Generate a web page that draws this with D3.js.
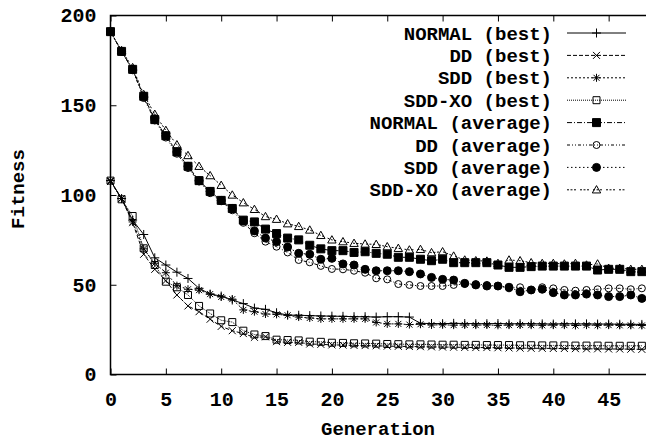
<!DOCTYPE html>
<html>
<head>
<meta charset="utf-8">
<script src="https://cdn.jsdelivr.net/npm/d3@7"></script>
<style>
  body { margin: 0; background: #fff; }
  text { font-family: "Liberation Mono", monospace; font-weight: bold; fill: #000; }
</style>
</head>
<body>
<svg id="chart" width="646" height="441"></svg>
<script>
// generations on the x axis
const generations = d3.range(0, 49);

// best-of-population fitness per generation
const normalBest = [108, 98, 86, 78, 65, 61, 57, 53.5, 48, 44.8, 43.7, 41.5, 39.5, 37, 36.3, 34.4, 33.1, 33, 32.8, 32.6, 32.5, 32.4, 32.2, 32.2, 32, 32.2, 32.2, 32, 28.5, 28.4, 28.3, 28.5, 28.4, 28.3, 28.3, 28.4, 28.2, 28.3, 28.3, 28.2, 28.1, 28.3, 28.2, 28.2, 28.1, 28.1, 28, 28, 27.9];
const ddBest = [107.5, 98, 84.6, 67, 58.6, 52.3, 44.3, 38.2, 35, 30.8, 26.8, 24.4, 22.8, 20.7, 21, 18.3, 17.9, 17.9, 17, 16.8, 16.5, 16.4, 16.2, 16.1, 16, 15.8, 15.7, 15.6, 15.5, 15.4, 15.3, 15.2, 15.1, 15, 15, 14.9, 14.8, 14.7, 14.6, 14.6, 14.5, 14.5, 14.4, 14.3, 14.3, 14.2, 14.2, 14.1, 14];
const sddBest = [108, 98, 85, 70, 62, 56.7, 49.5, 47.5, 47, 44.8, 43.2, 42, 36, 35, 33.7, 33.5, 33, 32, 31.5, 31, 31, 31, 31, 31, 29, 28.2, 28.2, 27.8, 28, 27.6, 27.7, 27.5, 27.6, 27.5, 27.6, 27.4, 27.5, 27.6, 27.5, 27.4, 27.5, 27.5, 27.3, 27.5, 27.4, 27.5, 27.4, 27.4, 27.3];
const sddxoBest = [108, 97.6, 88.3, 70.3, 61, 51.7, 48.6, 44.3, 38.2, 34, 30.2, 29.2, 24.4, 22.3, 21.4, 19.4, 19.2, 19, 18.3, 18.2, 17.7, 17.6, 17.4, 17.3, 17.2, 17, 16.9, 16.8, 16.8, 16.7, 16.6, 16.6, 16.5, 16.5, 16.4, 16.4, 16.4, 16.3, 16.3, 16.2, 16.2, 16.2, 16.1, 16.1, 16.1, 16, 16, 16, 16];

// population-average fitness per generation
const normalAvg = [191, 180, 170, 155, 142, 133, 124, 116, 108, 102, 97, 92.5, 86, 85, 81, 78.5, 76, 75, 72, 70, 69, 69, 68, 68.4, 67.5, 67, 65.3, 65.3, 64.2, 63.4, 64.2, 62.3, 62.3, 62.3, 62.3, 61, 59.7, 59.7, 60.1, 60.4, 60.4, 60.4, 60.4, 60.4, 58.2, 58.6, 58.6, 57.3, 57.3];
const ddAvg = [191, 180, 169.5, 154, 141.5, 132, 123, 115, 107.5, 101, 96.5, 91.5, 84.5, 78.7, 74, 71.2, 68, 63.8, 62.5, 60.5, 58.8, 58.6, 57.8, 56.7, 53.6, 53, 50.4, 49.9, 49.3, 49.3, 49.3, 49.9, 50.4, 50.4, 49.9, 49.3, 48, 48.6, 47.1, 48.6, 48, 47.1, 46.7, 47.1, 47.5, 48, 48, 47.5, 48];
const sddAvg = [191, 180, 170, 155, 142.5, 133, 124, 116, 108, 102, 97, 92.5, 85.5, 80, 76, 74, 71, 67.5, 67, 64.2, 64.7, 61.6, 61, 58.6, 57.8, 57.8, 57.8, 57.3, 56, 54.1, 53, 52.6, 50.8, 49.9, 49.3, 49.3, 48.6, 46.1, 47.1, 47.5, 45.6, 44.3, 44.3, 44.8, 44.3, 43.4, 43.4, 44.3, 42.4];
const sddxoAvg = [191, 180.5, 171, 156, 145, 136, 128, 122, 116, 110.8, 105.4, 100, 95.7, 92, 88, 86.5, 84, 82.5, 80.5, 77.5, 75, 74, 73.1, 72.7, 72.5, 71.2, 70.3, 69.4, 69.7, 67.9, 68.4, 66, 63.8, 63.4, 63.2, 61.9, 63.8, 63.4, 62.3, 61.9, 61.9, 61.6, 61.9, 61, 61.6, 59.2, 59.2, 58.6, 58.6];

const seriesNames = ["NORMAL (best)", "DD (best)", "SDD (best)", "SDD-XO (best)",
  "NORMAL (average)", "DD (average)", "SDD (average)", "SDD-XO (average)"];
const seriesValues = [normalBest, ddBest, sddBest, sddxoBest, normalAvg, ddAvg, sddAvg, sddxoAvg];

const xTicks = [0, 5, 10, 15, 20, 25, 30, 35, 40, 45];
const yTicks = [0, 50, 100, 150, 200];

// gnuplot-ish line and point styles
const dashes = ["none", "4,2", "2,2", "1,1", "5,2,1,2", "3,2,1,2,1,2", "1.5,2.5", "2,1.5,2,1.5,2,4"];

// marker shapes, r = half width
const markers = [
  { r: 4.5, fill: false, draw(c, r) { c.moveTo(-r, 0); c.lineTo(r, 0); c.moveTo(0, -r); c.lineTo(0, r); } },
  { r: 3.5, fill: false, draw(c, r) { c.moveTo(-r, -r); c.lineTo(r, r); c.moveTo(-r, r); c.lineTo(r, -r); } },
  { r: 4, fill: false, draw(c, r) {
      c.moveTo(-r, 0); c.lineTo(r, 0); c.moveTo(0, -r); c.lineTo(0, r);
      const q = r * 0.75; c.moveTo(-q, -q); c.lineTo(q, q); c.moveTo(-q, q); c.lineTo(q, -q); } },
  { r: 3.5, fill: false, draw(c, r) { c.rect(-r, -r, 2 * r, 2 * r); } },
  { r: 4, fill: true, draw(c, r) { c.rect(-r, -r, 2 * r, 2 * r); } },
  { r: 3.5, fill: false, draw(c, r) { c.moveTo(r, 0); c.arc(0, 0, r, 0, 2 * Math.PI); } },
  { r: 4, fill: true, draw(c, r) { c.moveTo(r, 0); c.arc(0, 0, r, 0, 2 * Math.PI); } },
  { r: 4.2, fill: false, draw(c, r) { c.moveTo(0, -r); c.lineTo(r, r * 0.75); c.lineTo(-r, r * 0.75); c.closePath(); } },
];

const markerPath = (m) => {
  const p = d3.path();
  m.draw(p, m.r);
  return p.toString();
};

const svg = d3.select("#chart");
const margin = { left: 110.5, top: 15.5 };
const pxPerGen = 11.07;

const x = d3.scaleLinear().domain([0, 50]).range([margin.left, margin.left + 50 * pxPerGen]);
const y = d3.scaleLinear().domain([0, 200]).range([374.5, margin.top]);

// axes: ticks point inward like gnuplot
svg.append("g")
  .attr("transform", `translate(0,${y(0)})`)
  .call(d3.axisBottom(x).tickValues(xTicks).tickSizeInner(-6).tickSizeOuter(0).tickPadding(17))
  .call((g) => g.select(".domain").remove());
svg.append("g")
  .attr("transform", `translate(0,${y(200)})`)
  .call(d3.axisTop(x).tickValues(xTicks).tickSizeInner(-6).tickSizeOuter(0).tickFormat(""))
  .call((g) => g.select(".domain").remove());
svg.append("g")
  .attr("transform", `translate(${x(0)},0)`)
  .call(d3.axisLeft(y).tickValues(yTicks).tickSizeInner(-6).tickSizeOuter(0).tickPadding(14))
  .call((g) => g.select(".domain").remove());

svg.selectAll(".tick line").attr("stroke", "#000").attr("stroke-width", 1);
svg.selectAll(".tick text").style("font-size", "20px").style("font-family", "Liberation Mono").style("font-weight", "bold");

// frame (left, top, bottom; right edge lies outside the picture)
svg.append("path")
  .attr("d", `M${x(50)},${y(200)}H${x(0)}V${y(0)}H${x(50)}`)
  .attr("fill", "none").attr("stroke", "#000").attr("stroke-width", 1.5);

const line = d3.line().x((d, i) => x(generations[i])).y((d) => y(d));

const plot = svg.append("g");
seriesValues.forEach((vals, s) => {
  plot.append("path")
    .attr("d", line(vals))
    .attr("fill", "none")
    .attr("stroke", "#000")
    .attr("stroke-width", 1)
    .attr("stroke-dasharray", dashes[s]);
  plot.append("g").selectAll("path")
    .data(vals)
    .join("path")
    .attr("transform", (d, i) => `translate(${x(generations[i])},${y(d)})`)
    .attr("d", markerPath(markers[s]))
    .attr("fill", markers[s].fill ? "#000" : "none")
    .attr("stroke", "#000")
    .attr("stroke-width", 1);
});

// legend
const legend = svg.append("g");
seriesNames.forEach((name, s) => {
  const cy = 33 + s * 22.4;
  legend.append("text")
    .attr("x", 552).attr("y", cy)
    .attr("dy", "0.35em")
    .attr("text-anchor", "end")
    .style("font-size", "19px")
    .text(name);
  legend.append("line")
    .attr("x1", 567).attr("x2", 626).attr("y1", cy).attr("y2", cy)
    .attr("stroke", "#000").attr("stroke-width", 1)
    .attr("stroke-dasharray", dashes[s]);
  legend.append("path")
    .attr("transform", `translate(596.5,${cy})`)
    .attr("d", markerPath(markers[s]))
    .attr("fill", markers[s].fill ? "#000" : "none")
    .attr("stroke", "#000").attr("stroke-width", 1);
});

// axis titles
svg.append("text")
  .attr("x", 378).attr("y", 435)
  .attr("text-anchor", "middle")
  .style("font-size", "19px")
  .text("Generation");
svg.append("text")
  .attr("transform", "translate(17,189) rotate(-90)")
  .attr("dy", "0.35em")
  .attr("text-anchor", "middle")
  .style("font-size", "19px")
  .text("Fitness");
</script>
</body>
</html>
